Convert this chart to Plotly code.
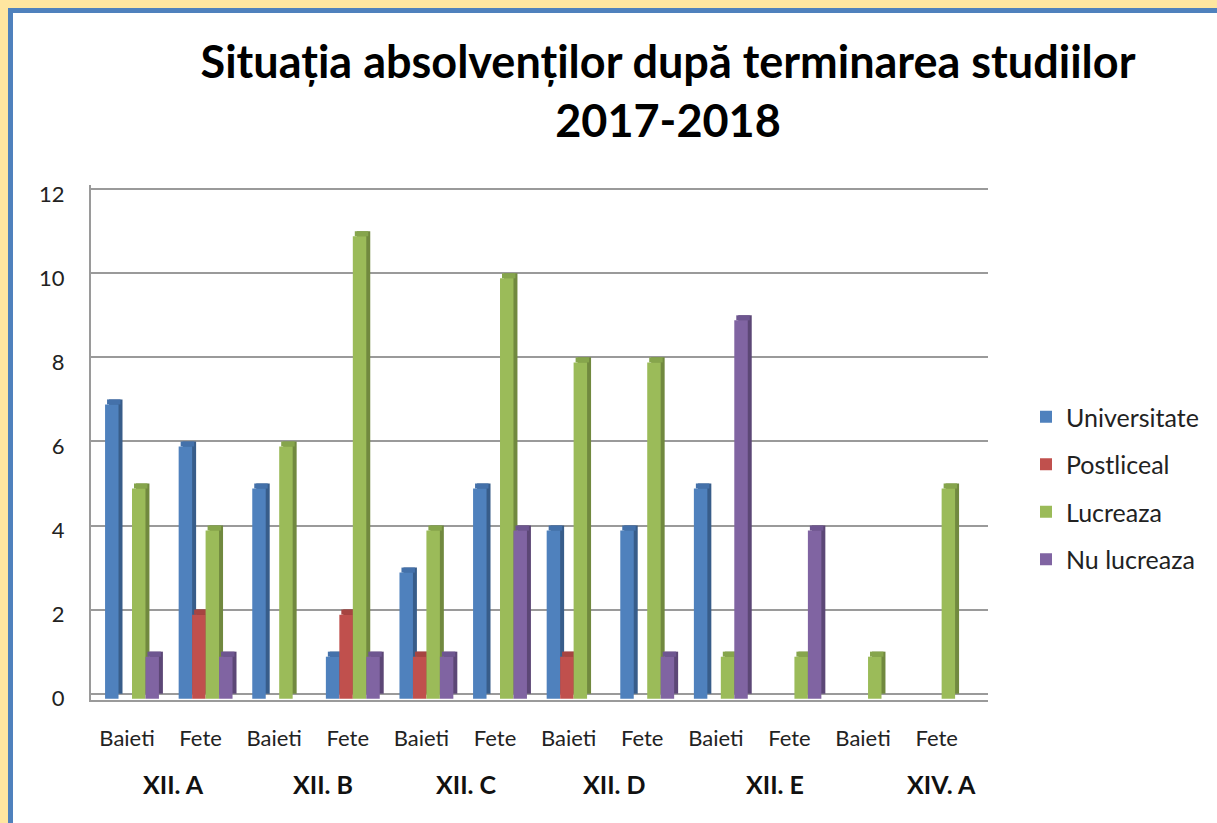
import plotly.graph_objects as go

# ---- data ----
groups = ["XII. A", "XII. B", "XII. C", "XII. D", "XII. E", "XIV. A"]
subgroups = ["Baieti", "Fete"]
series_names = ["Universitate", "Postliceal", "Lucreaza", "Nu lucreaza"]
universitate = [7, 6, 5, 1, 3, 5, 4, 4, 5, 0, 0, 0]
postliceal = [0, 2, 0, 2, 1, 0, 1, 0, 0, 0, 0, 0]
lucreaza = [5, 4, 6, 11, 4, 10, 8, 8, 1, 1, 1, 5]
nu_lucreaza = [1, 1, 0, 1, 1, 4, 0, 1, 9, 4, 0, 0]
y_ticks = [0, 2, 4, 6, 8, 10, 12]

series_values = [universitate, postliceal, lucreaza, nu_lucreaza]
front_colors = ["#4F81BD", "#C0504D", "#9BBB59", "#8064A2"]
cap_colors = ["#4471AA", "#A64441", "#86A54C", "#6E5690"]
side_colors = ["#385D8A", "#8C3836", "#71893F", "#5C4776"]

tick_labels = [s for g in groups for s in subgroups]
xpos = list(range(len(tick_labels)))

# ---- geometry (styling) ----
W, H = 1217, 823
PL, PR = 91, 988      # plot area pixels x
PT, PB = 185, 700     # plot area pixels y
slot = 0.183
depth_x = 0.054
depth_y = 0.12
n = len(series_names)

fig = go.Figure()

# depth side faces first
for i, (name, vals) in enumerate(zip(series_names, series_values)):
    off = -n * slot / 2 + i * slot + depth_x
    fig.add_trace(go.Bar(
        x=xpos, y=vals, base=0, offset=off, width=slot,
        marker=dict(color=side_colors[i], line=dict(width=0)),
        showlegend=False, hoverinfo="skip", legendgroup=name,
    ))

# top caps
for i, (name, vals) in enumerate(zip(series_names, series_values)):
    off = -n * slot / 2 + i * slot + depth_x / 2
    fig.add_trace(go.Bar(
        x=xpos, y=[depth_y if v > 0 else 0 for v in vals],
        base=[v - depth_y for v in vals], offset=off, width=slot,
        marker=dict(color=cap_colors[i], line=dict(width=0)),
        showlegend=False, hoverinfo="skip", legendgroup=name,
    ))

# front faces
for i, (name, vals) in enumerate(zip(series_names, series_values)):
    off = -n * slot / 2 + i * slot
    fig.add_trace(go.Bar(
        x=xpos, y=vals, base=-depth_y, offset=off, width=slot,
        name=name, legendgroup=name,
        marker=dict(color=front_colors[i], line=dict(width=0)),
    ))

def px2paper_x(px):
    return (px - PL) / (PR - PL)

def px2paper_y(py):
    return (PB - py) / (PB - PT)

# frame: yellow outer, blue inner, white body
shapes = [
    dict(type="rect", xref="paper", yref="paper", layer="below",
         x0=px2paper_x(8), x1=px2paper_x(W + 20), y0=px2paper_y(8), y1=px2paper_y(H + 20),
         fillcolor="#4F81BD", line=dict(width=0)),
    dict(type="rect", xref="paper", yref="paper", layer="below",
         x0=px2paper_x(13), x1=px2paper_x(W + 20), y0=px2paper_y(13), y1=px2paper_y(H + 20),
         fillcolor="white", line=dict(width=0)),
]

group_label_x = [0.56, 2.6, 4.55, 6.56, 8.74, 11.0]
annotations = [
    dict(text="<b>%s</b>" % g, x=gx, xref="x", y=px2paper_y(784), yref="paper",
         showarrow=False, xanchor="center", yanchor="middle",
         font=dict(family="Lato", size=25, color="#111111"))
    for g, gx in zip(groups, group_label_x)
]

fig.update_layout(
    width=W, height=H,
    margin=dict(l=PL, r=W - PR, t=PT, b=H - PB, pad=0),
    paper_bgcolor="#FFE6A0",
    plot_bgcolor="rgba(0,0,0,0)",
    barmode="overlay",
    title=dict(
        text="<b>Situația absolvenților după terminarea studiilor<br>2017-2018</b>",
        x=668 / W, xanchor="center", xref="container",
        y=1 - 78 / H, yanchor="top", yref="container",
        font=dict(family="Lato", size=45, color="#000000"),
    ),
    font=dict(family="Lato", color="#222222"),
    legend=dict(
        x=px2paper_x(1026), xanchor="left", y=px2paper_y(394), yanchor="top",
        font=dict(family="Lato", size=25, color="#222222"),
        tracegroupgap=12, bgcolor="rgba(0,0,0,0)",
    ),
    shapes=shapes,
    annotations=annotations,
)

fig.update_xaxes(
    range=[-0.557, 11.63],
    tickmode="array", tickvals=xpos, ticktext=tick_labels,
    tickfont=dict(family="Lato", size=22, color="#222222"),
    showgrid=False, zeroline=False,
    showline=True, linecolor="#9A9A9A", linewidth=2,
    ticks="", ticklabelstandoff=18, ticklabelshift=-5,
)
fig.update_yaxes(
    range=[-0.15, 12.1],
    tickmode="array", tickvals=y_ticks,
    tickfont=dict(family="Lato", size=22, color="#222222"),
    showgrid=True, gridcolor="#9A9A9A", gridwidth=2,
    zeroline=False,
    showline=True, linecolor="#9A9A9A", linewidth=2,
    ticks="", ticklabelstandoff=20, ticklabelshift=5,
)

fig.write_html("out.html", config={"displayModeBar": False},
               post_script="document.body.style.margin='0';document.body.style.padding='0';")
